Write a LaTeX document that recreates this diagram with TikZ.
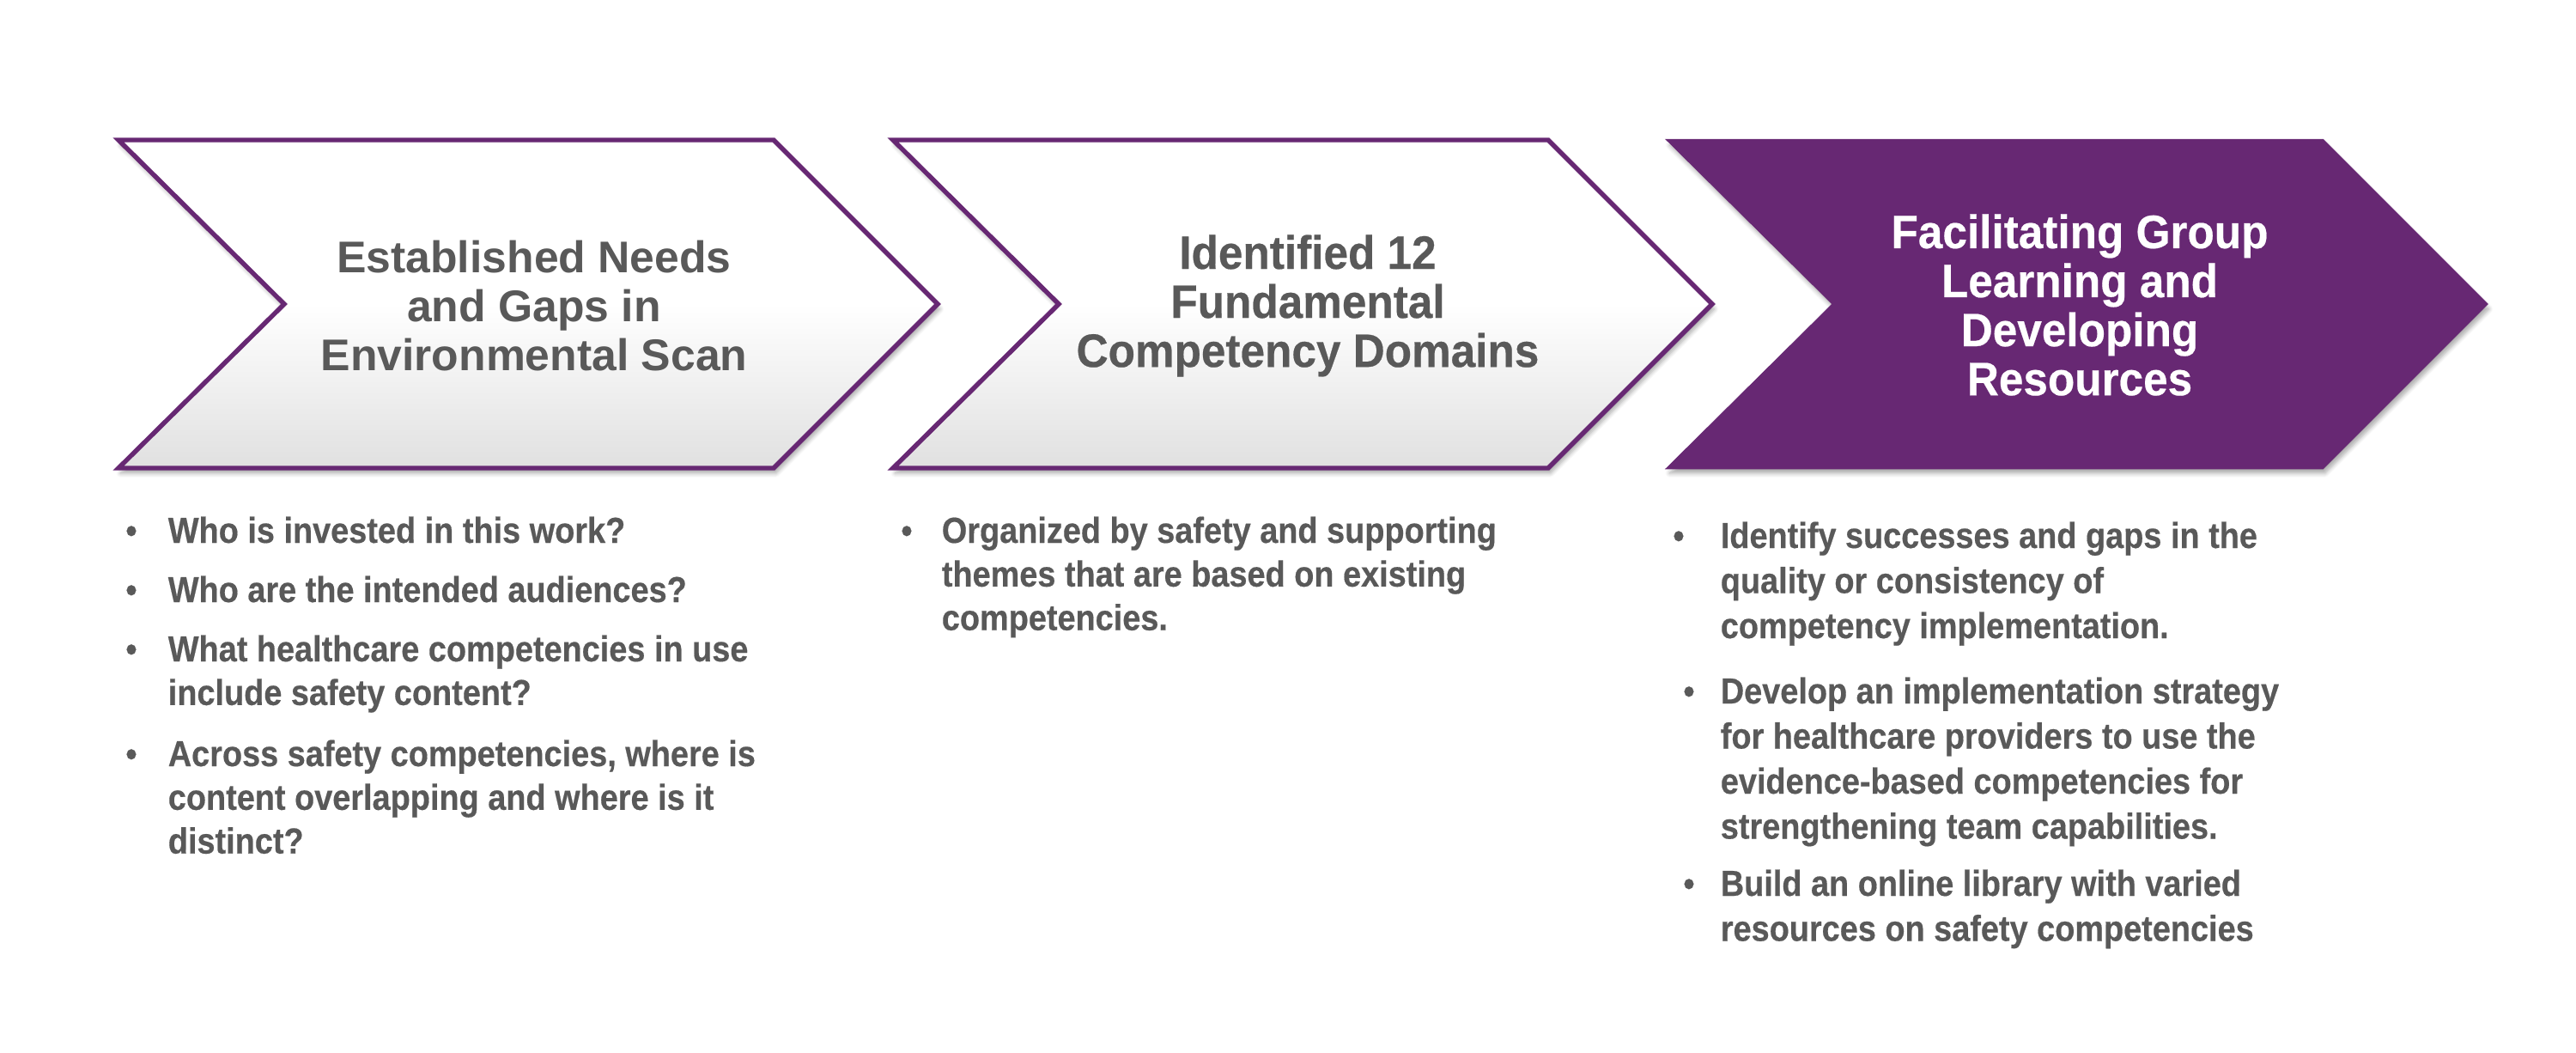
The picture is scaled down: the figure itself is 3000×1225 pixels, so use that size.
\documentclass[tikz,border=0pt]{standalone}
\usepackage{fontspec}
\setmainfont{Liberation Sans}
\newfontfamily\titlefont{Liberation Sans}
\newfontfamily\condfont{Liberation Sans}[FakeStretch=0.94,FakeBold=0.4]
\newfontfamily\bulletfont{Liberation Sans}[FakeStretch=0.9,FakeBold=0.4]
\usetikzlibrary{shadows.blur}
\definecolor{ahrqpurple}{RGB}{103,40,115}
\definecolor{txtgray}{RGB}{89,89,89}
\newcommand\colitem[2]{\parbox[t]{#1}{\raggedright #2}}
\begin{document}
\begin{tikzpicture}[x=0.24pt,y=-0.24pt,
  chevshadow/.style={blur shadow={shadow xshift=0.6pt, shadow yshift=-1.4pt, shadow blur steps=6, shadow blur radius=1.2pt, shadow opacity=35}},
  chevlight/.style={draw=ahrqpurple, line width=1.3pt, line join=miter, top color=white, bottom color=black!12, middle color=white, chevshadow},
  chevdark/.style={draw=ahrqpurple, line width=0.6pt, line join=miter, fill=ahrqpurple, chevshadow},
  titleA/.style={align=center, inner sep=0pt, text=txtgray, font=\titlefont\bfseries\fontsize{12.4}{13.7}\selectfont},
  titleB/.style={align=center, inner sep=0pt, text=txtgray, font=\condfont\bfseries\fontsize{13.1}{13.7}\selectfont},
  titleC/.style={titleB, text=white},
  itemtxt/.style={inner sep=0pt, anchor=base west, text=txtgray, font=\bulletfont\bfseries\fontsize{10.1}{12.2}\selectfont},
  itemtxtw/.style={itemtxt, font=\bulletfont\bfseries\fontsize{10.1}{12.6}\selectfont},
  bul/.style={inner sep=0pt, anchor=base, text=txtgray, font=\bulletfont\bfseries\fontsize{10}{12.2}\selectfont}
]
\useasboundingbox (0,0) rectangle (3000,1225);
% chevrons
\path[chevlight] (138,163) -- (901,163) -- (1092,354) -- (901,545) -- (138,545) -- (331,354) -- cycle;
\path[chevlight] (1040,163) -- (1803,163) -- (1994,354) -- (1803,545) -- (1040,545) -- (1233,354) -- cycle;
\path[chevdark] (1942,163) -- (2705,163) -- (2896,354) -- (2705,545) -- (1942,545) -- (2135,354) -- cycle;
% titles
\node[titleA] (t1) at (622,356) {Established Needs\\and Gaps in\\Environmental Scan};
\node[titleB] (t2) at (1523,356) {Identified 12\\Fundamental\\Competency Domains};
\node[titleC] (t3) at (2422,355) {Facilitating Group\\Learning and\\Developing\\Resources};
% column 1
\node[bul] (b11) at (153,632) {•};
\node[itemtxt] (i11) at (195,632) {Who is invested in this work?};
\node[bul] (b12) at (153,701) {•};
\node[itemtxt] (i12) at (195,701) {Who are the intended audiences?};
\node[bul] (b13) at (153,770) {•};
\node[itemtxt] (i13) at (195,770) {\colitem{200pt}{What healthcare competencies in use\\include safety content?}};
\node[bul] (b14) at (153,892) {•};
\node[itemtxt] (i14) at (195,892) {\colitem{200pt}{Across safety competencies, where is\\content overlapping and where is it\\distinct?}};
% column 2
\node[bul] (b21) at (1056,632) {•};
\node[itemtxt] (i21) at (1096,632) {\colitem{200pt}{Organized by safety and supporting\\themes that are based on existing\\competencies.}};
% column 3
\node[bul] (b31) at (1955,638) {•};
\node[itemtxtw] (i31) at (2003,638) {\colitem{200pt}{Identify successes and gaps in the\\quality or consistency of\\competency implementation.}};
\node[bul] (b32) at (1967,819) {•};
\node[itemtxtw] (i32) at (2003,819) {\colitem{200pt}{Develop an implementation strategy\\for healthcare providers to use the\\evidence-based competencies for\\strengthening team capabilities.}};
\node[bul] (b33) at (1967,1043) {•};
\node[itemtxtw] (i33) at (2003,1043) {\colitem{200pt}{Build an online library with varied\\resources on safety competencies}};
\end{tikzpicture}
\end{document}
